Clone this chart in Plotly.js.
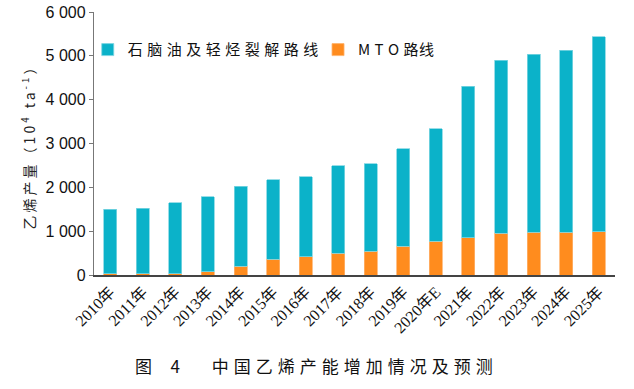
<!DOCTYPE html>
<html>
<head>
<meta charset="utf-8">
<script src="https://cdn.plot.ly/plotly-3.0.1.min.js"></script>
<style>html,body{margin:0;padding:0;background:#fff;}#chart{width:634px;height:389px;}</style>
</head>
<body>
<div id="chart"></div>
<script>
const years = ["2010年","2011年","2012年","2013年","2014年","2015年","2016年","2017年","2018年","2019年","2020年E","2021年","2022年","2023年","2024年","2025年"];
const totalOutput = [1500,1520,1650,1790,2030,2175,2240,2490,2535,2875,3340,4305,4905,5040,5130,5430];
const mtoOutput = [30,30,30,70,200,355,415,500,545,660,775,850,955,980,980,985];
const naphthaOutput = totalOutput.map((t, i) => t - mtoOutput[i]);
const seriesNames = ["石脑油及轻烃裂解路线", "M T O 路线"];
const yTicks = [0,1000,2000,3000,4000,5000,6000];

const cjk = '"Noto Sans CJK SC", "Liberation Sans", sans-serif';
const traces = [
  {type:'bar', x: years, y: mtoOutput, name: '<span style="letter-spacing:0.5px">' + seriesNames[1] + '</span>',
   marker:{color:'#ff8c1e', line:{color:'#ffb26b', width:0.8}}, legend:'legend2'},
  {type:'bar', x: years, y: naphthaOutput, name: '<span style="letter-spacing:4.5px">' + seriesNames[0] + '</span>',
   marker:{color:'#0bb2c9', line:{color:'#7fd6e2', width:0.8}}, legend:'legend'}
];

const layout = {
  width:634, height:389,
  margin:{l:94, r:19, t:12, b:114},
  paper_bgcolor:'#fff', plot_bgcolor:'#fff',
  barmode:'stack', bargap:0.6,
  separators:'. ',
  showlegend:true,
  legend:{x:-0.012, y:0.856, xanchor:'left', yanchor:'middle', bgcolor:'rgba(0,0,0,0)',
          font:{family:cjk, size:15, color:'#111'}, itemwidth:30},
  legend2:{x:0.43, y:0.856, xanchor:'left', yanchor:'middle', bgcolor:'rgba(0,0,0,0)',
          font:{family:cjk, size:15, color:'#111'}, itemwidth:30},
  xaxis:{type:'category', showline:true, linecolor:'#444', linewidth:1.5, ticks:'', 
         tickangle:-45, tickfont:{family:'"Liberation Serif", "Noto Sans CJK SC", serif', size:16, color:'#111'},
         showgrid:false, zeroline:false, fixedrange:true},
  yaxis:{range:[0,6000], tickvals:yTicks, tickformat:',d', showline:true, linecolor:'#777', linewidth:1.2,
         ticks:'outside', ticklen:4, tickcolor:'#777', showgrid:false, zeroline:false,
         tickfont:{family:'"Liberation Sans", Arial, sans-serif', size:16, color:'#111'},
         title:{text:'<span style="letter-spacing:3px">乙烯产量（10<sup>4</sup> ta<sup>-1</sup>）</span>', standoff:6,
                font:{family:cjk, size:14, color:'#222'}}},
  annotations:[{text:'<span style="letter-spacing:7.4px">图 4　</span><span style="letter-spacing:5px">中国乙烯产能增加情况及预测</span>', xref:'paper', yref:'paper',
                x:0.427, y:-0.345, xanchor:'center', yanchor:'middle', showarrow:false,
                font:{family:cjk, size:17, color:'#111'}}]
};

Plotly.newPlot('chart', traces, layout, {displayModeBar:false, staticPlot:true});
</script>
</body>
</html>
